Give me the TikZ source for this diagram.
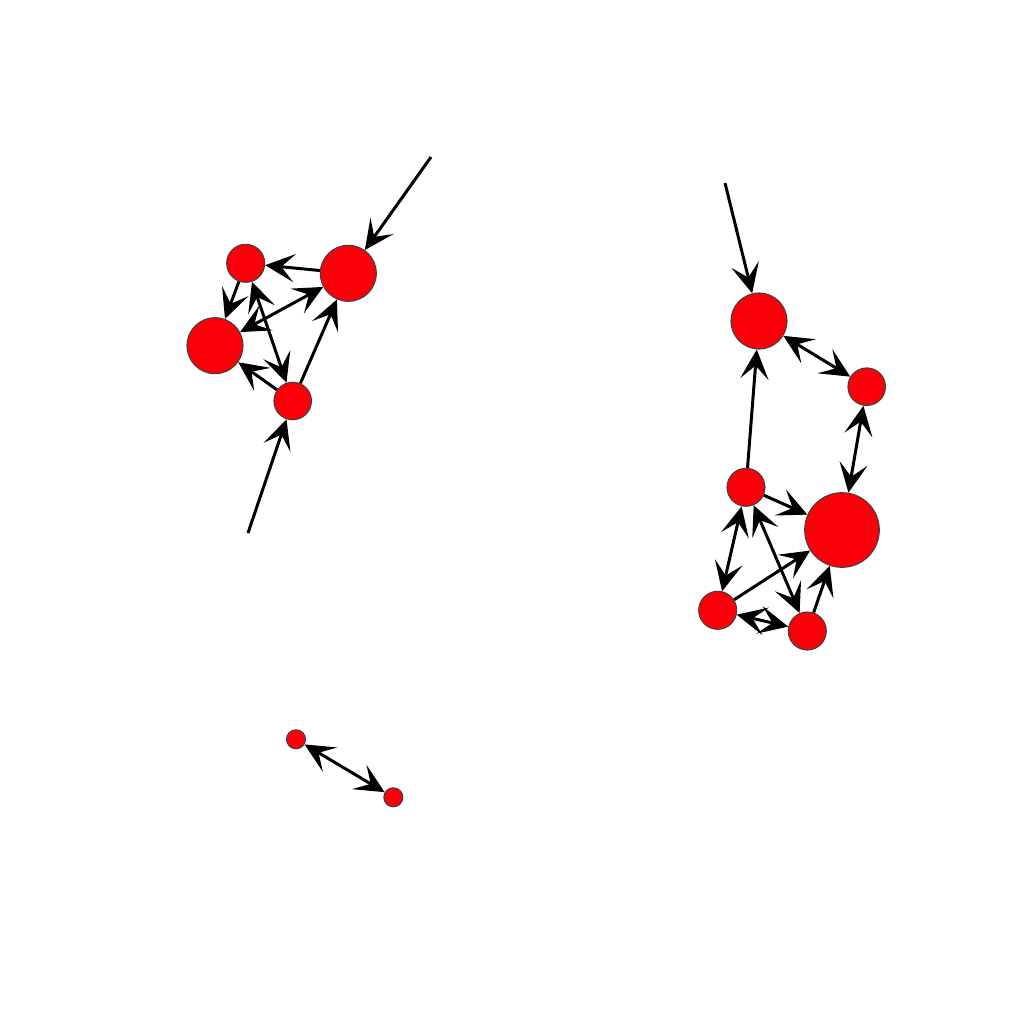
\documentclass[tikz,border=0pt]{standalone}
\usetikzlibrary{arrows.meta}
\definecolor{nodered}{RGB}{250,0,8}
\begin{document}
\begin{tikzpicture}[x=0.01cm,y=-0.01cm,
  vtx/.style={circle,fill=nodered,draw=black!75,line width=0.3pt,inner sep=0pt},
  edge/.style={line width=0.85pt,draw=black},
  >={Stealth[length=8.4pt,width=8pt,inset=3.8pt]}]
\useasboundingbox (0,0) rectangle (1024,1024);
% left cluster
\node[vtx,minimum size=0.38cm] (A) at (245.7,263.3) {};
\node[vtx,minimum size=0.56cm] (B) at (348.3,273.3) {};
\node[vtx,minimum size=0.56cm] (C) at (215,345.7) {};
\node[vtx,minimum size=0.375cm] (D) at (292.7,401) {};
\coordinate (fb) at (431,157);
\coordinate (fd) at (248,533);
% right cluster
\node[vtx,minimum size=0.56cm] (E) at (759,321) {};
\node[vtx,minimum size=0.375cm] (F) at (866.7,386.7) {};
\node[vtx,minimum size=0.38cm] (G) at (746,487.3) {};
\node[vtx,minimum size=0.746cm] (H) at (842,530) {};
\node[vtx,minimum size=0.38cm] (I) at (717.7,610.3) {};
\node[vtx,minimum size=0.38cm] (J) at (807.3,631) {};
\coordinate (fe) at (725,183);
% bottom pair
\node[vtx,minimum size=0.19cm] (K) at (296,739.3) {};
\node[vtx,minimum size=0.19cm] (L) at (393.3,797.3) {};
% edges
\draw[edge,->] (fb) -- (B);
\draw[edge,->] (fd) -- (D);
\draw[edge,->] (B) -- (A);
\draw[edge,->] (A) -- (C);
\draw[edge,<->] (C) -- (B);
\draw[edge,<->] (A) -- (D);
\draw[edge,->] (D) -- (C);
\draw[edge,->] (D) -- (B);
\draw[edge,->] (fe) -- (E);
\draw[edge,->] (G) -- (E);
\draw[edge,<->] (E) -- (F);
\draw[edge,<->] (F) -- (H);
\draw[edge,->] (G) -- (H);
\draw[edge,<->] (G) -- (I);
\draw[edge,<->] (G) -- (J);
\draw[edge,->] (I) -- (H);
\draw[edge,->] (J) -- (H);
\draw[edge,<->] (I) -- (J);
\draw[edge,<->] (K) -- (L);
\end{tikzpicture}
\end{document}
